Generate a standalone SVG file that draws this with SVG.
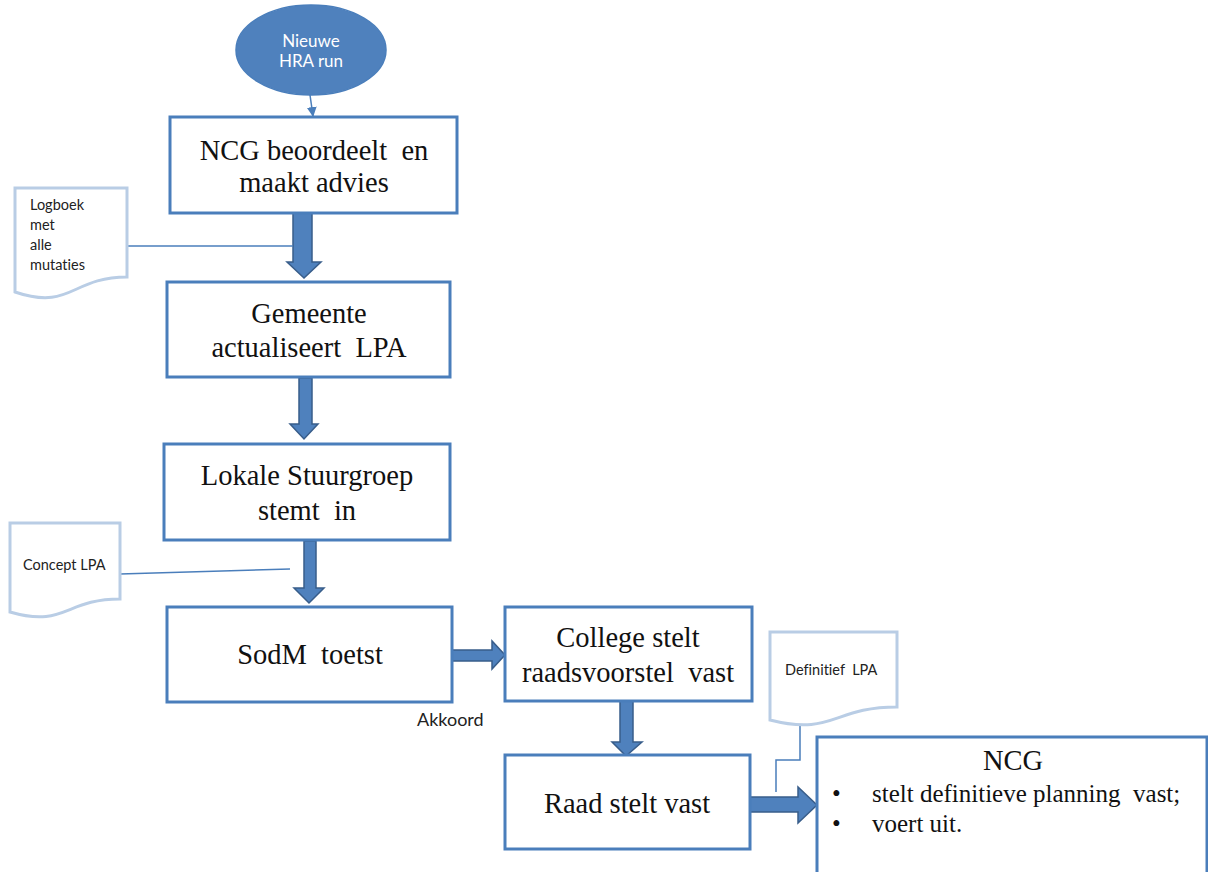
<svg xmlns="http://www.w3.org/2000/svg" width="1208" height="872" viewBox="0 0 1208 872">
<style>
text{white-space:pre;font-variant-ligatures:none}
.box{fill:#ffffff;stroke:#4a7ebb;stroke-width:3}
.doc{fill:#ffffff;stroke:#b9cde5;stroke-width:3}
.big{fill:#4f81bd;stroke:#385d8a;stroke-width:1.5}
.thin{fill:none;stroke:#4a7ebb;stroke-width:1.5}
.t{font-family:"Liberation Serif","Times New Roman",serif;font-size:28.5px;fill:#111;text-anchor:middle}
.s{font-family:Lato,"Liberation Sans",sans-serif;font-size:14.5px;fill:#222}
.b{font-family:"Liberation Serif","Times New Roman",serif;font-size:25px;fill:#111}
</style>
<defs>
<marker id="ah" markerWidth="10" markerHeight="10" refX="9" refY="5" orient="auto" markerUnits="userSpaceOnUse">
<path d="M0,0 L10,5 L0,10 Z" fill="#4a7ebb"/>
</marker>
</defs>
<rect width="1208" height="872" fill="#ffffff"/>

<g id="connectors">
<line class="thin" x1="310" y1="95" x2="313" y2="116" marker-end="url(#ah)"/>
<polygon class="big" points="293,213 312,213 312,262 321,262 304,278 287,262 293,262"/>
<polygon class="big" points="299,378 312,378 312,424 318,424 304,439 290,424 299,424"/>
<polygon class="big" points="304,541 316,541 316,588 324,588 309,603 294,588 304,588"/>
<polygon class="big" points="452,650 492,650 492,641 505,655 492,669 492,661 452,661"/>
<polygon class="big" points="620,701 633,701 633,742 642,742 626,756 612,742 620,742"/>
<polygon class="big" points="750,797 798,797 798,787 817,805 798,823 798,812 750,812"/>
<line class="thin" x1="127" y1="246" x2="293" y2="246"/>
<line class="thin" x1="120" y1="574" x2="290" y2="569"/>
<polyline class="thin" points="800,722 800,760 776,760 776,792"/>
</g>

<g id="start">
<ellipse cx="311" cy="50" rx="75" ry="45" fill="#4f81bd" stroke="#4a7ebb" stroke-width="1.5"/>
<text x="311" y="47" style="font-family:Lato,'Liberation Sans',sans-serif;font-size:17px;fill:#ffffff;text-anchor:middle">Nieuwe</text>
<text x="311" y="67" style="font-family:Lato,'Liberation Sans',sans-serif;font-size:17px;fill:#ffffff;text-anchor:middle">HRA run</text>
</g>

<g id="ncg-beoordeelt">
<rect class="box" x="170" y="117" width="287" height="96"/>
<text class="t" x="314" y="160">NCG beoordeelt  en</text>
<text class="t" x="314" y="192">maakt advies</text>
</g>

<g id="logboek">
<path class="doc" d="M15,188 H127 V277 C71,277 71,311 15,292 Z"/>
<text class="s" x="30" y="210">Logboek</text>
<text class="s" x="30" y="230">met</text>
<text class="s" x="30" y="250">alle</text>
<text class="s" x="30" y="270">mutaties</text>
</g>

<g id="gemeente">
<rect class="box" x="167" y="282" width="283" height="95"/>
<text class="t" x="309" y="323">Gemeente</text>
<text class="t" x="309" y="357">actualiseert  LPA</text>
</g>

<g id="stuurgroep">
<rect class="box" x="164" y="444" width="286" height="96"/>
<text class="t" x="307" y="485">Lokale Stuurgroep</text>
<text class="t" x="307" y="520">stemt  in</text>
</g>

<g id="concept-lpa">
<path class="doc" d="M10,523 H120 V599 C65,599 65,628 10,612 Z"/>
<text class="s" x="23" y="570">Concept LPA</text>
</g>

<g id="sodm">
<rect class="box" x="167" y="607" width="285" height="95"/>
<text class="t" x="310" y="664">SodM  toetst</text>
<text x="417" y="726" style="font-family:Lato,'Liberation Sans',sans-serif;font-size:18px;fill:#222">Akkoord</text>
</g>

<g id="college">
<rect class="box" x="505" y="607" width="247" height="94"/>
<text class="t" x="628" y="647">College stelt</text>
<text class="t" x="628" y="682">raadsvoorstel  vast</text>
</g>

<g id="definitief-lpa">
<path class="doc" d="M770,632 H897 V707 C833,707 833,736 770,720 Z"/>
<text class="s" x="785" y="675">Definitief  LPA</text>
</g>

<g id="raad">
<rect class="box" x="505" y="755" width="245" height="94"/>
<text class="t" x="627" y="813">Raad stelt vast</text>
</g>

<g id="ncg-final">
<rect class="box" x="817" y="737" width="390" height="145"/>
<text class="t" x="1013" y="770">NCG</text>
<text class="b" x="832" y="802">•</text>
<text class="b" x="872" y="802">stelt definitieve planning  vast;</text>
<text class="b" x="832" y="832">•</text>
<text class="b" x="872" y="832">voert uit.</text>
</g>
</svg>
